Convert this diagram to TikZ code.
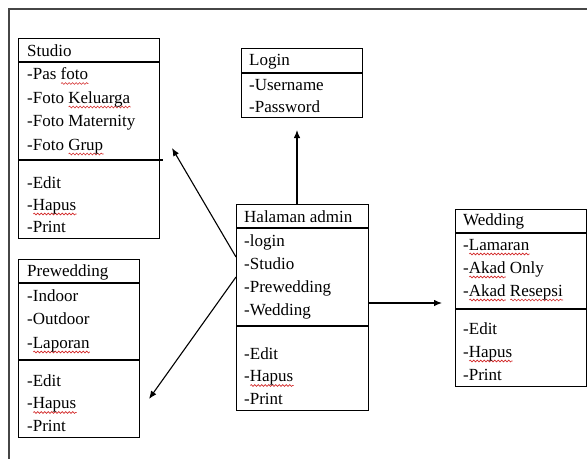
\documentclass[tikz,border=0pt]{standalone}
\usepackage{fontspec}
\setmainfont{Liberation Serif}
\usepackage{tikz}
\usetikzlibrary{arrows.meta,positioning,calc,decorations.pathmorphing}
\definecolor{FrameGray}{RGB}{70, 70, 70}
\definecolor{SpellRed}{RGB}{210, 40, 40}

\newsavebox{\squigbox}
\newcommand{\squig}[1]{\sbox{\squigbox}{#1}\rlap{\tikz[baseline=0pt]\draw[SpellRed, line width=0.6pt, decorate, decoration={snake, amplitude=0.9pt, segment length=3.5pt}] (0pt,-4pt) -- (\wd\squigbox,-4pt);}#1}

\begin{document}
\begin{tikzpicture}[x=1pt, y=-1pt, font=\fontsize{17}{23}\selectfont]
  \tikzstyle{box} = [rectangle, draw=black, anchor=north west, inner sep=0pt, line width=1.2pt]
  \tikzstyle{item} = [anchor=base west, inner sep=0pt]
  \tikzstyle{line} = [draw=black, -{Latex[length=8pt, width=6.5pt]}, line width=1.1pt]

  \useasboundingbox (0,0) rectangle (587,459);
  \draw [FrameGray, line width=1.5pt] (587,9) -- (9,9) -- (9,459);

  % class boxes
  \node [box, minimum width=141pt, minimum height=200pt] (studio) at (18,38) {};
  \node [box, minimum width=121pt, minimum height=69pt] (login) at (241,48) {};
  \node [box, minimum width=132pt, minimum height=206pt] (admin) at (236,204) {};
  \node [box, minimum width=131pt, minimum height=177pt] (wedding) at (455,209) {};
  \node [box, minimum width=121pt, minimum height=178pt] (prewed) at (18,259) {};

  % dividers
  \draw [line width=1.2pt] ([yshift=-24pt]studio.north west) -- ([yshift=-24pt]studio.north east);
  \draw [line width=1.2pt] ([yshift=-122pt]studio.north west) -- ([yshift=-122pt,xshift=3pt]studio.north east);
  \draw [line width=1.2pt] ([yshift=-25pt]login.north west) -- ([yshift=-25pt]login.north east);
  \draw [line width=1.2pt] ([yshift=-24pt]admin.north west) -- ([yshift=-24pt]admin.north east);
  \draw [line width=1.2pt] ([yshift=-122pt]admin.north west) -- ([yshift=-122pt]admin.north east);
  \draw [line width=1.2pt] ([yshift=-24pt]wedding.north west) -- ([yshift=-24pt]wedding.north east);
  \draw [line width=1.2pt] ([yshift=-100pt]wedding.north west) -- ([yshift=-100pt]wedding.north east);
  \draw [line width=1.2pt] ([yshift=-24pt]prewed.north west) -- ([yshift=-24pt]prewed.north east);
  \draw [line width=1.2pt] ([yshift=-101pt]prewed.north west) -- ([yshift=-101pt]prewed.north east);

  % Studio
  \node [item] (studio-t) at (27,56) {Studio};
  \foreach \t [count=\i] in {-Pas \squig{foto}, -Foto \squig{Keluarga}, -Foto Maternity, -Foto \squig{Grup}}
    \node [item] (studio-a\i) at (27,{56+23.5*\i}) {\t};
  \foreach \t [count=\i] in {-Edit, -\squig{Hapus}, -Print}
    \node [item] (studio-o\i) at (27,{166+22*\i}) {\t};

  % Login
  \node [item] (login-t) at (249,65) {Login};
  \foreach \t [count=\i] in {-Username, -Password}
    \node [item] (login-a\i) at (249,{68+22*\i}) {\t};

  % Halaman admin
  \node [item] (admin-t) at (244,222) {Halaman admin};
  \foreach \t [count=\i] in {-login, -Studio, -Prewedding, -Wedding}
    \node [item] (admin-a\i) at (244,{223+23*\i}) {\t};
  \foreach \t [count=\i] in {-Edit, -\squig{Hapus}, -Print}
    \node [item] (admin-o\i) at (244,{336.5+22.5*\i}) {\t};

  % Wedding
  \node [item] (wedding-t) at (463,225) {Wedding};
  \foreach \t [count=\i] in {-\squig{Lamaran}, -\squig{Akad} Only, -\squig{Akad} \squig{Resepsi}}
    \node [item] (wedding-a\i) at (463,{227+23*\i}) {\t};
  \foreach \t [count=\i] in {-Edit, -\squig{Hapus}, -Print}
    \node [item] (wedding-o\i) at (463,{311+23*\i}) {\t};

  % Prewedding
  \node [item] (prewed-t) at (27,276) {Prewedding};
  \foreach \t [count=\i] in {-Indoor, -Outdoor, -\squig{Laporan}}
    \node [item] (prewed-a\i) at (27,{277.5+23.5*\i}) {\t};
  \foreach \t [count=\i] in {-Edit, -\squig{Hapus}, -Print}
    \node [item] (prewed-o\i) at (27,{363.5+22.5*\i}) {\t};

  % connectors
  \coordinate (toLogin) at (297,130);
  \coordinate (toWedding) at (442,303);
  \coordinate (toStudio) at (172,148);
  \coordinate (toPrewed) at (149,399);
  \path [line] (admin.north -| toLogin) -- (toLogin);
  \path [line] (admin.east |- toWedding) -- (toWedding);
  \path [line] ([yshift=-53pt]admin.north west) -- (toStudio);
  \path [line] ([yshift=-73pt]admin.north west) -- (toPrewed);
\end{tikzpicture}
\end{document}
